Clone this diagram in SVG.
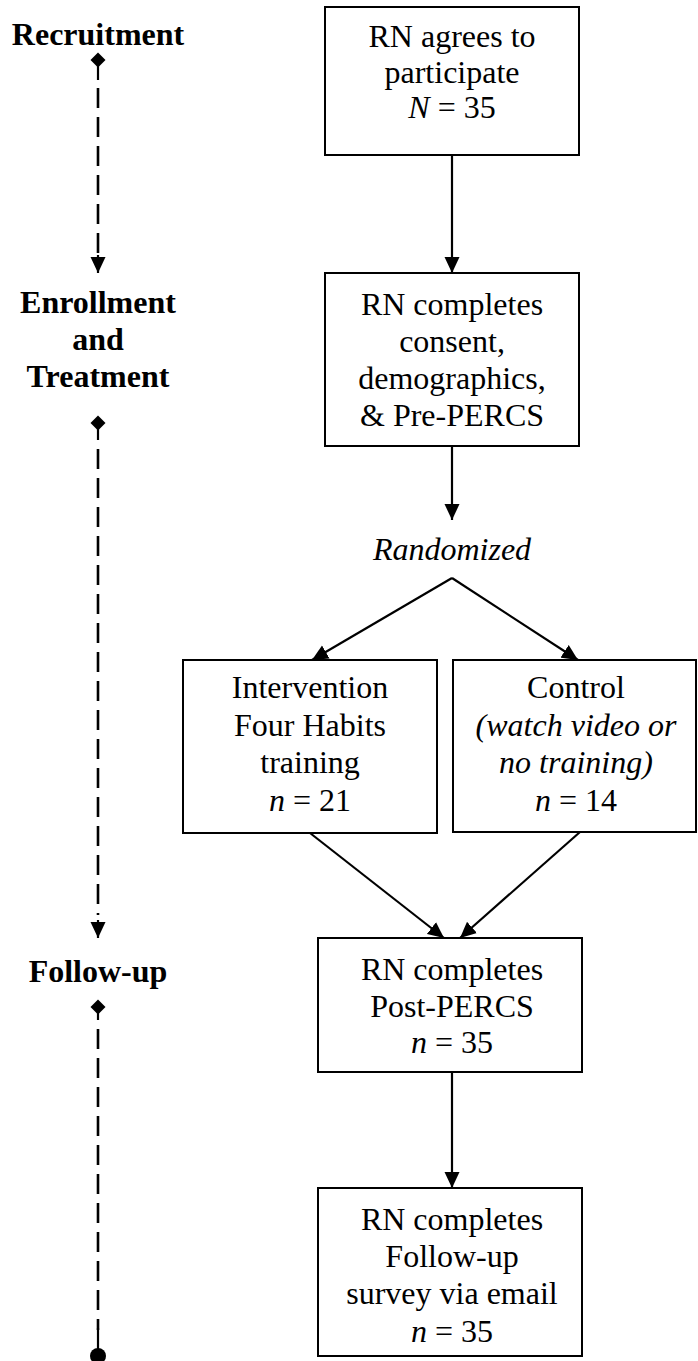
<svg xmlns="http://www.w3.org/2000/svg" width="698" height="1361" viewBox="0 0 698 1361">
<style>
text{font-family:"Liberation Serif","Times New Roman",serif;font-size:32px;fill:#000;text-anchor:middle}
.b{font-weight:bold}
.i{font-style:italic}
rect{fill:#fff;stroke:#000;stroke-width:2}
.c{stroke:#000;stroke-width:2.2;fill:none}
.d{stroke:#000;stroke-width:2.6;fill:none;stroke-dasharray:20 9}
</style>
<defs>
<marker id="ah" viewBox="0 0 16 16" refX="16" refY="8" markerWidth="16" markerHeight="16" markerUnits="userSpaceOnUse" orient="auto"><path d="M0,0.5 L16,8 L0,15.5 z" fill="#000"/></marker>
<marker id="dm" viewBox="0 0 16 16" refX="8" refY="8" markerWidth="16" markerHeight="16" markerUnits="userSpaceOnUse" orient="auto"><path d="M1,8 L8,1 L15,8 L8,15 z" fill="#000"/></marker>
</defs>
<rect x="0" y="0" width="698" height="1361" style="stroke:none"/>
<g id="timeline">
<text class="b" x="98" y="45">Recruitment</text>
<text class="b" x="98" y="313">Enrollment</text>
<text class="b" x="98" y="350">and</text>
<text class="b" x="98" y="387">Treatment</text>
<text class="b" x="98" y="982">Follow-up</text>
<path class="c" d="M98,60 V80"/>
<path class="d" d="M98,88 V262"/>
<path class="c" d="M98,255 V273" marker-end="url(#ah)"/>
<path class="c" d="M98,423 V440"/>
<path class="d" d="M98,449 V915"/>
<path class="c" d="M98,920 V938" marker-end="url(#ah)"/>
<path class="c" d="M98,1007 V1020"/>
<path class="d" d="M98,1029 V1330"/>
<path class="c" d="M98,1328 V1356"/>
<path d="M90.5,60 L98,52.5 L105.5,60 L98,67.5 z" fill="#000"/>
<path d="M90.5,423 L98,415.5 L105.5,423 L98,430.5 z" fill="#000"/>
<path d="M90.5,1007 L98,999.5 L105.5,1007 L98,1014.5 z" fill="#000"/>
<circle cx="98" cy="1356" r="8" fill="#000"/>
</g>
<g id="connectors">
<path class="c" d="M452,155 V273" marker-end="url(#ah)"/>
<path class="c" d="M452,446 V520" marker-end="url(#ah)"/>
<path class="c" d="M452,578 L312,660" marker-end="url(#ah)"/>
<path class="c" d="M452,578 L578,660" marker-end="url(#ah)"/>
<path class="c" d="M310,833 L444,938" marker-end="url(#ah)"/>
<path class="c" d="M580,832 L460,938" marker-end="url(#ah)"/>
<path class="c" d="M452,1072 V1188" marker-end="url(#ah)"/>
</g>
<g id="n1">
<rect x="325" y="7" width="254" height="148"/>
<text x="452" y="47">RN agrees to</text>
<text x="452" y="83">participate</text>
<text x="452" y="118"><tspan class="i">N</tspan> = 35</text>
</g>
<g id="n2">
<rect x="325" y="273" width="254" height="173"/>
<text x="452" y="315">RN completes</text>
<text x="452" y="352">consent,</text>
<text x="452" y="389">demographics,</text>
<text x="452" y="426">&amp; Pre-PERCS</text>
</g>
<g id="randomized">
<text class="i" x="452" y="560">Randomized</text>
</g>
<g id="n3">
<rect x="183" y="660" width="254" height="173"/>
<text x="310" y="698">Intervention</text>
<text x="310" y="736">Four Habits</text>
<text x="310" y="773">training</text>
<text x="310" y="811"><tspan class="i">n</tspan> = 21</text>
</g>
<g id="n4">
<rect x="453" y="660" width="243" height="172"/>
<text x="576" y="698">Control</text>
<text class="i" x="576" y="736">(watch video or</text>
<text class="i" x="576" y="773">no training)</text>
<text x="576" y="811"><tspan class="i">n</tspan> = 14</text>
</g>
<g id="n5">
<rect x="318" y="938" width="264" height="134"/>
<text x="452" y="980">RN completes</text>
<text x="452" y="1017">Post-PERCS</text>
<text x="452" y="1053"><tspan class="i">n</tspan> = 35</text>
</g>
<g id="n6">
<rect x="318" y="1188" width="264" height="168"/>
<text x="452" y="1230">RN completes</text>
<text x="452" y="1267">Follow-up</text>
<text x="452" y="1304">survey via email</text>
<text x="452" y="1342"><tspan class="i">n</tspan> = 35</text>
</g>
</svg>
